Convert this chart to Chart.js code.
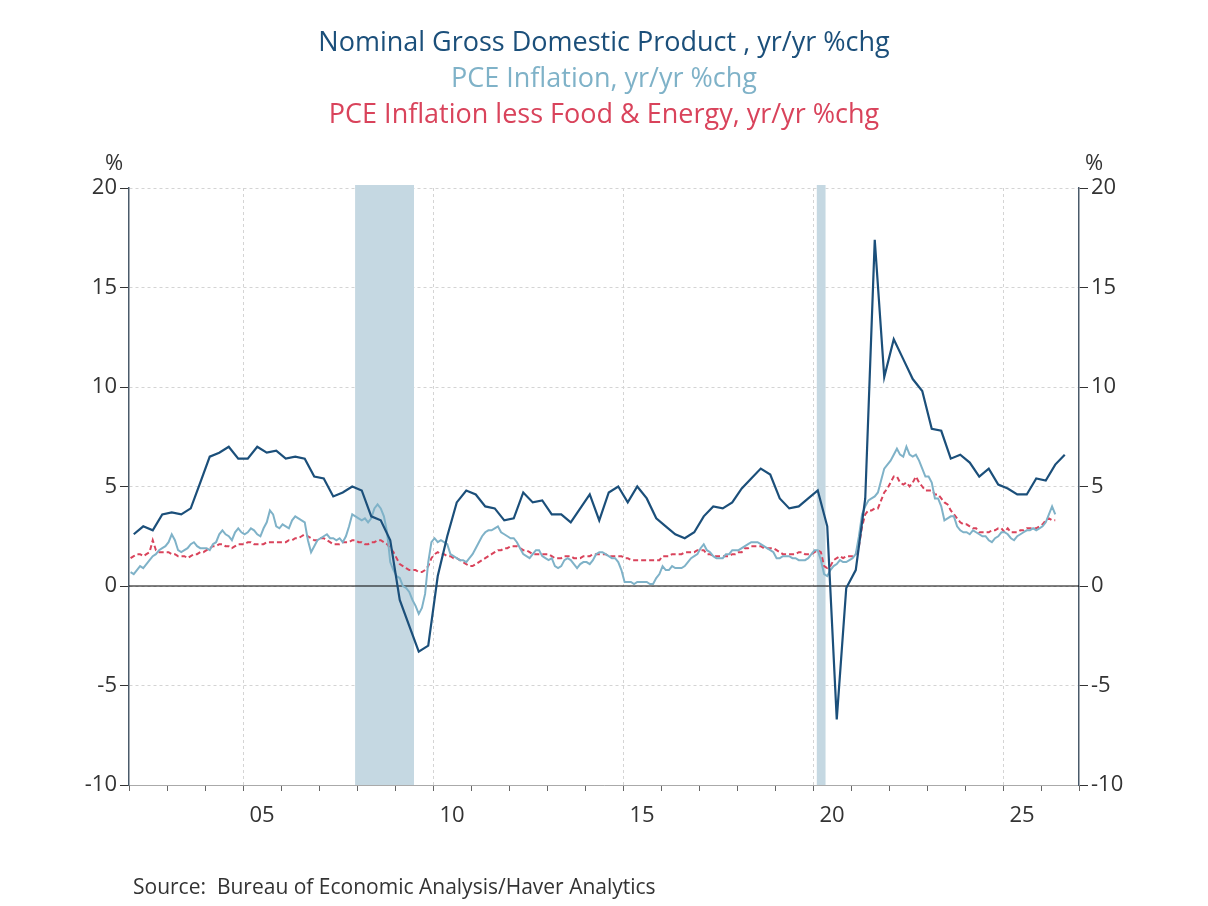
<!DOCTYPE html>
<html><head><meta charset="utf-8">
<script src="https://cdn.jsdelivr.net/npm/chart.js@4"></script>
<style>html,body{margin:0;padding:0;background:#fff}#w{width:1208px;height:906px}</style>
</head><body><div id="w"><canvas id="c"></canvas></div>
<script>
const titles = ["Nominal Gross Domestic Product , yr/yr %chg","PCE Inflation, yr/yr %chg","PCE Inflation less Food & Energy, yr/yr %chg"];
const source = "Source:  Bureau of Economic Analysis/Haver Analytics";
const recessions = [[2007.95,2009.5],[2020.1,2020.33]];
const gdpStartYear = 2002;
const gdp = [2.6,3.0,2.8,3.6, 3.7,3.6,3.9,5.2, 6.5,6.7,7.0,6.4, 6.4,7.0,6.7,6.8, 6.4,6.5,6.4,5.5,
 5.4,4.5,4.7,5.0, 4.8,3.5,3.3,2.3, -0.7,-2.0,-3.3,-3.0, 0.5,2.5,4.2,4.8, 4.6,4.0,3.9,3.3,
 3.4,4.7,4.2,4.3, 3.6,3.6,3.2,3.9, 4.6,3.3,4.7,5.0, 4.2,5.0,4.4,3.4, 3.0,2.6,2.4,2.7,
 3.5,4.0,3.9,4.2, 4.9,5.4,5.9,5.6, 4.4,3.9,4.0,4.4, 4.8,3.0,-6.7,-0.1, 0.8,4.4,17.4,10.5,
 12.4,11.4,10.4,9.8, 7.9,7.8,6.4,6.6, 6.2,5.5,5.9,5.1, 4.9,4.6,4.6,5.4, 5.3,6.1,6.6];
const pceStartYear = 2002;
const pce = [0.7,0.6,0.8,1.0,0.9,1.1,1.3,1.5,1.6,1.8,1.9,2.0,
2.2,2.6,2.3,1.8,1.7,1.8,1.9,2.1,2.2,2.0,1.9,1.9,
1.9,1.8,2.1,2.2,2.6,2.8,2.6,2.5,2.3,2.7,2.9,2.7,
2.6,2.7,2.9,2.8,2.6,2.5,2.9,3.2,3.8,3.6,3.0,2.9,
3.1,3.0,2.9,3.3,3.5,3.4,3.3,3.2,2.3,1.7,2.0,2.3,
2.4,2.5,2.6,2.4,2.4,2.3,2.4,2.2,2.5,3.0,3.6,3.5,
3.4,3.3,3.4,3.2,3.4,3.9,4.1,3.9,3.5,2.7,1.2,0.8,
0.5,0.4,0.0,-0.1,-0.3,-0.7,-1.0,-1.4,-1.1,-0.4,1.2,2.2,
2.4,2.2,2.3,2.2,2.1,1.6,1.5,1.4,1.3,1.3,1.2,1.4,
1.6,1.9,2.2,2.5,2.7,2.8,2.8,2.9,3.0,2.7,2.6,2.5,
2.4,2.4,2.2,1.9,1.6,1.5,1.4,1.6,1.8,1.8,1.5,1.4,
1.3,1.4,1.0,0.9,1.0,1.3,1.4,1.3,1.1,0.9,1.1,1.2,
1.2,1.1,1.3,1.6,1.7,1.7,1.6,1.5,1.4,1.4,1.2,0.8,
0.2,0.2,0.2,0.1,0.2,0.2,0.2,0.2,0.1,0.1,0.4,0.6,
1.0,0.8,0.8,1.0,0.9,0.9,0.9,1.0,1.2,1.4,1.5,1.6,
1.9,2.1,1.8,1.7,1.5,1.4,1.4,1.4,1.6,1.6,1.8,1.8,
1.8,1.9,2.0,2.1,2.2,2.2,2.2,2.1,2.0,1.9,1.8,1.7,
1.4,1.4,1.5,1.5,1.5,1.4,1.4,1.3,1.3,1.3,1.4,1.6,
1.8,1.8,1.3,0.6,0.5,0.8,1.0,1.1,1.3,1.2,1.2,1.3,
1.4,1.6,2.5,3.6,4.0,4.3,4.4,4.5,4.7,5.3,5.9,6.1,
6.3,6.6,6.9,6.6,6.5,7.0,6.6,6.5,6.6,6.3,5.9,5.5,
5.5,5.2,4.4,4.4,4.0,3.3,3.4,3.5,3.5,3.0,2.8,2.7,
2.7,2.6,2.8,2.7,2.6,2.5,2.5,2.3,2.2,2.4,2.5,2.7,
2.7,2.6,2.4,2.3,2.5,2.6,2.7,2.8,2.8,2.9,2.8,2.9,
3.0,3.2,3.6,4.0,3.6];
const core = [1.4,1.5,1.6,1.6,1.5,1.6,1.7,2.3,1.8,1.7,1.7,1.7,
1.7,1.6,1.6,1.5,1.5,1.5,1.4,1.5,1.6,1.6,1.7,1.7,
1.8,1.9,2.0,2.0,2.1,2.1,2.0,2.0,1.9,2.0,2.1,2.1,
2.1,2.2,2.2,2.1,2.1,2.1,2.1,2.2,2.2,2.2,2.2,2.2,
2.2,2.2,2.3,2.3,2.4,2.4,2.5,2.6,2.5,2.4,2.3,2.3,
2.4,2.4,2.3,2.2,2.1,2.1,2.1,2.2,2.2,2.2,2.3,2.3,
2.2,2.2,2.1,2.1,2.2,2.2,2.3,2.3,2.2,2.1,1.9,1.7,
1.4,1.1,1.0,0.9,0.8,0.8,0.8,0.7,0.7,0.8,1.0,1.4,
1.6,1.7,1.6,1.6,1.5,1.5,1.4,1.4,1.3,1.2,1.1,1.0,
1.0,1.1,1.2,1.3,1.4,1.5,1.6,1.7,1.8,1.8,1.9,1.9,
2.0,2.0,2.0,1.9,1.8,1.8,1.7,1.6,1.6,1.6,1.6,1.6,
1.6,1.5,1.4,1.4,1.4,1.5,1.5,1.5,1.4,1.4,1.4,1.5,
1.5,1.5,1.6,1.6,1.6,1.6,1.6,1.5,1.5,1.5,1.5,1.5,
1.4,1.4,1.3,1.3,1.3,1.3,1.3,1.3,1.3,1.3,1.3,1.3,
1.5,1.5,1.5,1.6,1.6,1.6,1.6,1.7,1.7,1.7,1.7,1.8,
1.8,1.8,1.6,1.6,1.5,1.5,1.5,1.5,1.5,1.5,1.6,1.6,
1.7,1.7,1.9,1.9,2.0,2.0,2.0,2.0,1.9,1.9,1.9,1.9,
1.8,1.7,1.6,1.6,1.6,1.6,1.6,1.7,1.7,1.6,1.6,1.6,
1.7,1.8,1.7,1.0,0.9,1.0,1.3,1.4,1.5,1.4,1.5,1.5,
1.5,1.6,2.0,3.0,3.6,3.8,3.8,3.9,3.9,4.3,4.7,4.9,
5.2,5.5,5.5,5.2,5.1,5.2,5.0,5.2,5.5,5.2,5.0,4.8,
4.8,4.8,4.6,4.6,4.4,4.2,4.1,3.8,3.6,3.4,3.2,3.1,
3.1,3.0,2.9,2.9,2.7,2.7,2.7,2.7,2.8,2.8,2.9,2.9,
2.7,2.9,2.7,2.7,2.7,2.8,2.8,2.9,2.9,2.9,2.9,3.0,
3.1,3.3,3.4,3.3,3.3];

const gdpPts = gdp.map((v,i)=>({x:gdpStartYear+i/4+0.125,y:v}));
const pcePts = pce.map((v,i)=>({x:pceStartYear+i/12+1/24,y:v}));
const corePts = core.map((v,i)=>({x:pceStartYear+i/12+1/24,y:v}));

const FONT = "'Open Sans', 'Noto Sans', sans-serif";
const deco = {
  id:'deco',
  beforeDatasetsDraw(ch){
    const {ctx,chartArea:a,scales:{x}}=ch;
    ctx.save(); ctx.fillStyle='#c5d8e2';
    recessions.forEach(([s,e])=>{const x0=x.getPixelForValue(s),x1=x.getPixelForValue(e);ctx.fillRect(x0,a.top-3,x1-x0,a.bottom-a.top+3);});
    const y=ch.scales.y, yz=y.getPixelForValue(0);
    ctx.strokeStyle='#000'; ctx.lineWidth=1; ctx.beginPath(); ctx.moveTo(a.left,yz); ctx.lineTo(a.right,yz); ctx.stroke();
    ctx.restore();
  },
  afterDraw(ch){
    const {ctx}=ch; ctx.save();
    ctx.textAlign='center'; ctx.textBaseline='middle'; ctx.font='27px '+FONT;
    const cols=['#1b4f7a','#7fb2c8','#d9435b'];
    titles.forEach((t,i)=>{ctx.fillStyle=cols[i]; ctx.fillText(t,604,43+i*36);});
    ctx.fillStyle='#333'; ctx.font='22px '+FONT;
    ctx.fillText('%',114,164); ctx.fillText('%',1094,164);
    ctx.textAlign='left'; ctx.font='21px '+FONT; ctx.fillText(source,133,888);
    ctx.restore();
  }
};
const yTicks = [];
for(let v=-10; v<=20; v+=5) yTicks.push(v);
const xTicks=[]; for(let v=2002; v<=2027; v+=0.5) xTicks.push(v);
function yAxis(pos){return {
  position:pos,min:-10,max:20,
  afterBuildTicks:s=>{s.ticks=yTicks.map(v=>({value:v}));},
  afterFit:s=>{s.width= pos==='left'?129:129;},
  grid:{color:'#d4d4d4',tickColor:'#333',tickLength:9,drawOnChartArea:pos==='left'},
  border:{display:true,color:'#4a5a6a',width:1.5,dash:[3,3]},
  ticks:{color:'#333',font:{size:22,family:FONT},padding:3,callback:v=>v}
};}
new Chart(document.getElementById('c'),{
  type:'line',
  data:{datasets:[
    {label:'core',data:corePts,borderColor:'#d9435b',borderWidth:2,borderDash:[5,3],pointRadius:0,tension:0,order:3},
    {label:'pce',data:pcePts,borderColor:'#7fb2c8',borderWidth:2,pointRadius:0,tension:0,order:2},
    {label:'gdp',data:gdpPts,borderColor:'#1b4f7a',borderWidth:2.2,pointRadius:0,tension:0,order:1}
  ]},
  options:{
    responsive:true,maintainAspectRatio:false,animation:false,
    layout:{padding:{top:188,bottom:0,left:0,right:0}},
    plugins:{legend:{display:false},tooltip:{enabled:false}},
    scales:{
      x:{type:'linear',min:2002,max:2027,
        afterBuildTicks:s=>{s.ticks=xTicks.map(v=>({value:v}));},
        afterFit:s=>{s.height=121;},
        grid:{color:c=>(c.tick&&c.tick.value%5===0)?'#d4d4d4':'rgba(0,0,0,0)',
              tickColor:c=>(c.tick&&Number.isInteger(c.tick.value))?'#666':'rgba(0,0,0,0)',tickLength:6},
        border:{display:true,color:'#aaa',dash:[3,3]},
        ticks:{autoSkip:false,maxRotation:0,color:'#333',font:{size:22,family:FONT},padding:12,
          callback:v=>{ if(v%5===0.5) return String(Math.floor(v)%100).padStart(2,'0'); return ''; }}
      },
      y:yAxis('left'),
      y2:yAxis('right')
    }
  },
  plugins:[deco]
});
</script></body></html>
